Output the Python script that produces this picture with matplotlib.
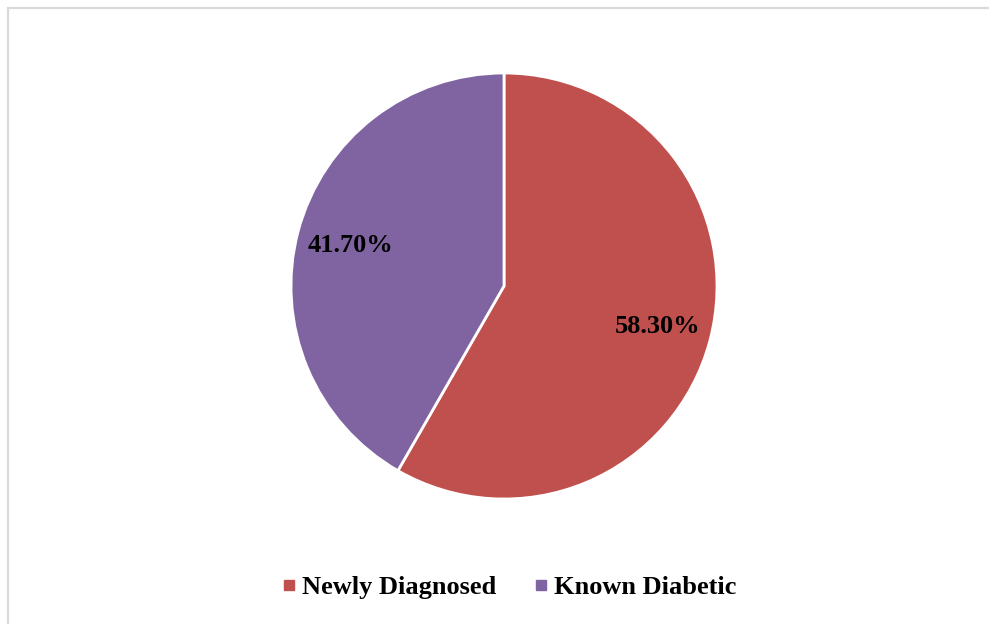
import matplotlib
matplotlib.use("Agg")
import matplotlib.pyplot as plt
from matplotlib.lines import Line2D
from matplotlib.patches import Rectangle

# datos
categorias = ["Newly Diagnosed", "Known Diabetic"]
valores = [58.30, 41.70]
etiquetas = ["58.30%", "41.70%"]
colores = ["#C0504D", "#8064A2"]

W, H = 989, 624
fig = plt.figure(figsize=(W / 100, H / 100), dpi=100)
fig.patch.set_facecolor("white")

# borde del area del grafico (gris claro)
fig.add_artist(Rectangle((7.5 / W, -0.1), 2, 1 - 7.5 / H + 0.1,
                         transform=fig.transFigure, fill=False,
                         edgecolor="#D9D9D9", linewidth=1.6))

# eje del pastel: centro (504, 286) px, radio 213 px
cx, cy, r = 504, H - 286, 213
ax = fig.add_axes([(cx - r) / W, (cy - r) / H, 2 * r / W, 2 * r / H])

wedges, texts = ax.pie(
    valores, colors=colores, startangle=90, counterclock=False,
    labels=etiquetas, labeldistance=0.745,
    wedgeprops=dict(edgecolor="white", linewidth=2),
    textprops=dict(fontfamily="Liberation Serif", fontweight="bold",
                   fontsize=19, color="black", ha="center", va="center"),
)
ax.set_xlim(-1, 1)
ax.set_ylim(-1, 1)
ax.set_aspect("equal")

handles = [Line2D([], [], linestyle="none", marker="s", markersize=6.5,
                  markerfacecolor=c, markeredgecolor=c) for c in colores]
fig.legend(handles, categorias, loc="center", bbox_to_anchor=(509 / W, 1 - 587 / H),
           ncol=2, frameon=False, handlelength=0.6, handletextpad=0.2,
           columnspacing=1.38,
           prop=dict(family="Liberation Serif", weight="bold", size=19))

fig.savefig("out.png", dpi=100, facecolor="white")
